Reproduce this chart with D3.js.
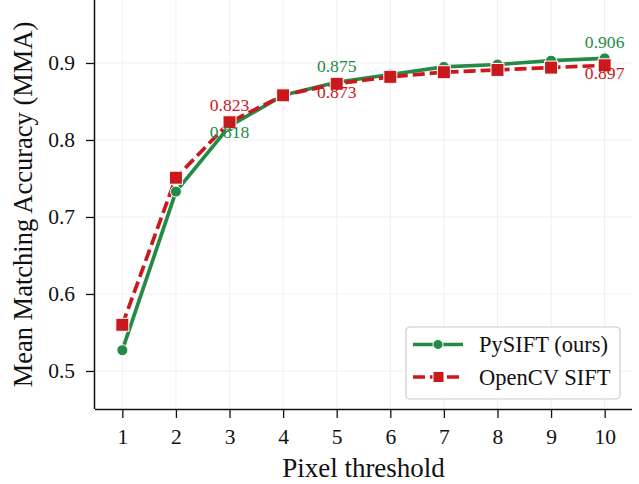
<!DOCTYPE html>
<html>
<head>
<meta charset="UTF-8">
<script src="https://d3js.org/d3.v7.min.js"></script>
<style>
  body { margin: 0; background: white; }
  svg { display: block; font-family: "Liberation Serif", "DejaVu Serif", serif; }
</style>
</head>
<body>
<div id="chart"></div>
<script>
// data
var thresholds = [1, 2, 3, 4, 5, 6, 7, 8, 9, 10];
var pysift = [0.527, 0.733, 0.818, 0.858, 0.875, 0.885, 0.895, 0.898, 0.903, 0.906];
var opencv = [0.560, 0.751, 0.823, 0.858, 0.873, 0.882, 0.888, 0.891, 0.894, 0.897];
var yTicks = [0.5, 0.6, 0.7, 0.8, 0.9];
var annotated = [3, 5, 10];

var W = 639, H = 484;
var margin = {top: 0, right: 7, bottom: 75, left: 95};
var width = W - margin.left - margin.right,
    height = H - margin.top - margin.bottom;

var green = "#238b45", red = "#cb181d";

var svg = d3.select("#chart").append("svg")
  .attr("width", W).attr("height", H)
  .append("g")
  .attr("transform", "translate(" + margin.left + "," + margin.top + ")");

var x = d3.scaleLinear().domain([0.49, 10.51]).range([0, width]);
var y = d3.scaleLinear().domain([0.4506, 0.9818]).range([height, 0]);

// grid
svg.append("g").selectAll("line").data(thresholds).enter().append("line")
  .attr("x1", d => x(d)).attr("x2", d => x(d))
  .attr("y1", 0).attr("y2", height)
  .style("stroke", "#ebebeb").style("stroke-width", 0.8);
svg.append("g").selectAll("line").data(yTicks).enter().append("line")
  .attr("x1", 0).attr("x2", width)
  .attr("y1", d => y(d)).attr("y2", d => y(d))
  .style("stroke", "#ebebeb").style("stroke-width", 0.8);

// axes
var xAxis = svg.append("g")
  .attr("transform", "translate(0," + height + ")")
  .call(d3.axisBottom(x).tickValues(thresholds).tickSize(9).tickPadding(11).tickFormat(d3.format("d")));
var yAxis = svg.append("g")
  .call(d3.axisLeft(y).tickValues(yTicks).tickSize(9).tickPadding(11).tickFormat(d3.format(".1f")));
[xAxis, yAxis].forEach(function(a) {
  a.selectAll("text").style("font-size", "21.5px").style("fill", "#111").style("font-family", "Liberation Serif");
  a.selectAll("line").style("stroke", "#111").style("stroke-width", 1.3);
  a.select(".domain").style("stroke", "#111").style("stroke-width", 1.5);
});
xAxis.select(".domain").attr("d", "M0,0.5H" + width);
yAxis.select(".domain").attr("d", "M-0.5," + height + "V0");

// lines
var line = function(vals) {
  return d3.line().x((d, i) => x(thresholds[i])).y(d => y(d))(vals);
};
svg.append("path").attr("d", line(pysift))
  .style("fill", "none").style("stroke", green).style("stroke-width", 3.7)
  .style("stroke-linejoin", "round");
svg.append("path").attr("d", line(opencv))
  .style("fill", "none").style("stroke", red).style("stroke-width", 3.7)
  .style("stroke-dasharray", "12,5");

// markers
svg.selectAll(".gdot").data(pysift).enter().append("circle")
  .attr("cx", (d, i) => x(thresholds[i])).attr("cy", d => y(d)).attr("r", 5.5)
  .style("fill", green).style("stroke", "white").style("stroke-width", 1);
svg.selectAll(".rsq").data(opencv).enter().append("rect")
  .attr("x", (d, i) => x(thresholds[i]) - 6.5).attr("y", d => y(d) - 6.5)
  .attr("width", 13).attr("height", 13)
  .style("fill", red).style("stroke", "white").style("stroke-width", 1);

// value labels
annotated.forEach(function(t) {
  var i = thresholds.indexOf(t);
  var gAbove = pysift[i] >= opencv[i];
  svg.append("text")
    .attr("x", x(t)).attr("y", y(pysift[i]) + (gAbove ? -10 : 12))
    .attr("text-anchor", "middle").style("font-size", "17.6px").style("fill", green)
    .text(pysift[i].toFixed(3));
  svg.append("text")
    .attr("x", x(t)).attr("y", y(opencv[i]) + (gAbove ? 14 : -11))
    .attr("text-anchor", "middle").style("font-size", "17.6px").style("fill", red)
    .text(opencv[i].toFixed(3));
});

// axis labels
svg.append("text")
  .attr("x", width / 2).attr("y", height + 68)
  .attr("text-anchor", "middle").style("font-size", "27px").style("fill", "#111")
  .text("Pixel threshold");
svg.append("text")
  .attr("transform", "translate(" + (-63) + "," + (height / 2) + ") rotate(-90)")
  .attr("text-anchor", "middle").style("font-size", "26.5px").style("fill", "#111")
  .text("Mean Matching Accuracy (MMA)");

// legend
var lg = svg.append("g").attr("transform", "translate(" + (406 - margin.left) + ",327)");
lg.append("rect").attr("width", 214).attr("height", 72).attr("rx", 4)
  .style("fill", "white").style("fill-opacity", 0.85)
  .style("stroke", "#cccccc").style("stroke-width", 1.2);
var items = [
  {name: "PySIFT (ours)", color: green, dash: null, shape: "circle"},
  {name: "OpenCV SIFT", color: red, dash: "12,5", shape: "square"}
];
items.forEach(function(it, i) {
  var cy = 17.5 + i * 32.5;
  lg.append("line").attr("x1", 7).attr("x2", 57).attr("y1", cy).attr("y2", cy)
    .style("stroke", it.color).style("stroke-width", 3.7)
    .style("stroke-dasharray", it.dash);
  if (it.shape === "circle") {
    lg.append("circle").attr("cx", 32).attr("cy", cy).attr("r", 5)
      .style("fill", it.color).style("stroke", "white").style("stroke-width", 1);
  } else {
    lg.append("rect").attr("x", 27).attr("y", cy - 5.5).attr("width", 11).attr("height", 11)
      .style("fill", it.color).style("stroke", "white").style("stroke-width", 1);
  }
  lg.append("text").attr("x", 73).attr("y", cy + 7.5)
    .style("font-size", "22.5px").style("fill", "#111").text(it.name);
});
</script>
</body>
</html>
